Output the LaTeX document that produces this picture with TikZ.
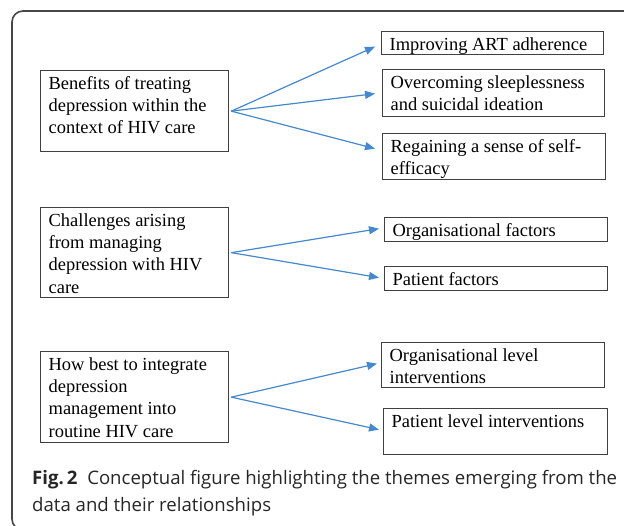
\documentclass[tikz,border=0pt]{standalone}
\usepackage{fontspec}
\setmainfont{Liberation Serif}
\newfontfamily\capfont{Open Sans}
\usetikzlibrary{arrows.meta,calc}
\definecolor{arrowblue}{RGB}{70,136,206}
\definecolor{boxgray}{RGB}{64,64,64}
\definecolor{framegray}{RGB}{70,70,70}
\newcommand\boxtxt[3]{\parbox[c][#1][t]{#2}{\raggedright\rule{0pt}{18.7pt}#3}}
\begin{document}
\begin{tikzpicture}[x=1pt,y=-1pt,
  box/.style={draw=boxgray, line width=1.3pt, fill=white, anchor=north west,
    inner xsep=8pt, inner ysep=0pt,
    font=\fontsize{18.45}{22.3}\selectfont},
  conn/.style={draw=arrowblue, line width=1.2pt,
    -{Triangle[length=10pt,width=8pt]}}
]
\useasboundingbox (0,0) rectangle (624,526);
\begin{scope}
\clip (0,0) rectangle (624,526);
\draw[framegray, line width=1.6pt, rounded corners=11pt]
  (640,11) -- (12,11) -- (12,530) -- (640,530);
\end{scope}

% left boxes
\node[box] (a) at (40,70)
  {\boxtxt{81pt}{172pt}{Benefits of treating\\depression within the\\context of HIV care}};
\node[box] (b) at (40,207)
  {\boxtxt{90pt}{172pt}{Challenges arising\\from managing\\depression with HIV\\care}};
\node[box] (c) at (40,351)
  {\boxtxt{91pt}{172pt}{How best to integrate\\depression\\management into\\routine HIV care}};

% right boxes
\node[box] (r1) at (381,31)
  {\boxtxt{23pt}{206pt}{Improving ART adherence}};
\node[box] (r2) at (382,69)
  {\boxtxt{47pt}{206pt}{Overcoming sleeplessness\\and suicidal ideation}};
\node[box] (r3) at (382,133)
  {\boxtxt{46pt}{207pt}{Regaining a sense of self-\\efficacy}};
\node[box] (r4) at (384,217)
  {\boxtxt{24pt}{207pt}{Organisational factors}};
\node[box] (r5) at (384,266)
  {\boxtxt{24pt}{207pt}{Patient factors}};
\node[box] (r6) at (381,342)
  {\boxtxt{45pt}{207pt}{Organisational level\\interventions}};
\node[box] (r7) at (383,408)
  {\boxtxt{46pt}{208pt}{Patient level interventions}};

% connectors
\draw[conn] ([xshift=2pt]a.east) -- ([xshift=-6pt,yshift=-3.5pt]r1.west);
\draw[conn] ([xshift=2pt]a.east) -- ([xshift=-7pt,yshift=-0.5pt]r2.west);
\draw[conn] ([xshift=2pt]a.east) -- ([xshift=-7pt,yshift=8pt]r3.west);
\draw[conn] ([xshift=2pt]b.east) -- ([xshift=-5pt,yshift=1pt]r4.west);
\draw[conn] ([xshift=2pt]b.east) -- ([xshift=-5pt,yshift=1pt]r5.west);
\draw[conn] ([xshift=2pt]c.east) -- ([xshift=-4pt,yshift=1.5pt]r6.west);
\draw[conn] ([xshift=2pt]c.east) -- ([xshift=-4pt,yshift=2pt]r7.west);

% caption
\node[anchor=base west, inner sep=0pt, align=left,
  font=\capfont\fontsize{18.6}{26}\selectfont, text=black!85] (cap) at (32,511)
  {{\bfseries Fig.\,2}\ \ Conceptual figure highlighting the themes emerging from the\\data and their relationships};
\end{tikzpicture}
\end{document}
